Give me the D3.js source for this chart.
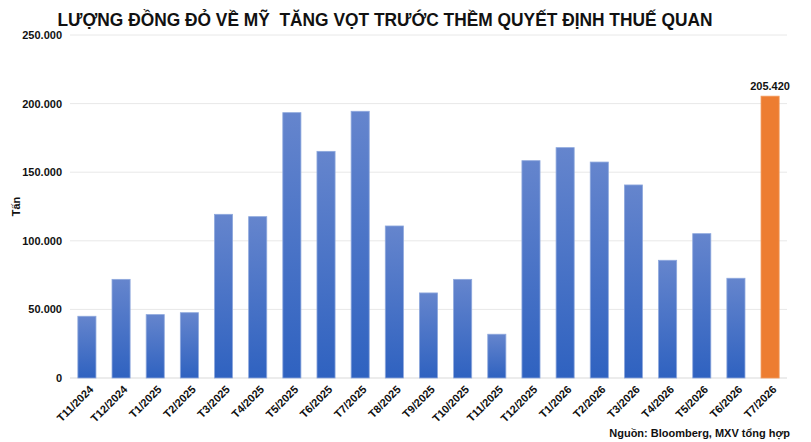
<!DOCTYPE html>
<html>
<head>
<meta charset="utf-8">
<script src="https://cdn.jsdelivr.net/npm/d3@7"></script>
<style>
  body { margin: 0; background: #fff; }
  svg { display: block; font-family: "Liberation Sans", Arial, sans-serif; }
</style>
</head>
<body>
<div id="chart"></div>
<script>
const months = ['T11/2024', 'T12/2024', 'T1/2025', 'T2/2025', 'T3/2025', 'T4/2025', 'T5/2025',
  'T6/2025', 'T7/2025', 'T8/2025', 'T9/2025', 'T10/2025', 'T11/2025', 'T12/2025', 'T1/2026',
  'T2/2026', 'T3/2026', 'T4/2026', 'T5/2026', 'T6/2026', 'T7/2026'];
const tons = [45000, 71900, 46200, 47600, 119300, 117600, 193400, 165200, 194400, 110800, 62000,
  71900, 31900, 158400, 167900, 157400, 140700, 85800, 105200, 72700, 205420];
const yTicks = [0, 50000, 100000, 150000, 200000, 250000];

const width = 811;
const height = 442;
const margin = { top: 35, right: 24, bottom: 64, left: 70 };

const locale = d3.formatLocale({ decimal: ',', thousands: '.', grouping: [3], currency: ['', ''] });
const fmt = locale.format(',d');

const svg = d3.select('#chart')
  .append('svg')
  .attr('width', width)
  .attr('height', height);

const defs = svg.append('defs');
const grad = defs.append('linearGradient')
  .attr('id', 'blueGrad')
  .attr('x1', 0).attr('y1', 0).attr('x2', 0).attr('y2', 1);
grad.append('stop').attr('offset', '0%').attr('stop-color', '#6585cd');
grad.append('stop').attr('offset', '100%').attr('stop-color', '#2f62c0');

const x = d3.scaleBand()
  .domain(months)
  .range([margin.left, width - margin.right])
  .paddingInner(0.47)
  .paddingOuter(0.23);

const y = d3.scaleLinear()
  .domain([0, 250000])
  .range([height - margin.bottom, margin.top]);

// gridlines
svg.append('g')
  .selectAll('line')
  .data(yTicks)
  .enter()
  .append('line')
  .attr('x1', margin.left)
  .attr('x2', width - margin.right)
  .attr('y1', d => y(d))
  .attr('y2', d => y(d))
  .attr('stroke', d => d === 0 ? '#d9d9d9' : '#e8e8e8')
  .attr('stroke-width', 1);

// y axis labels
const yAxis = svg.append('g')
  .attr('transform', `translate(${margin.left - 8},0)`)
  .call(d3.axisLeft(y).tickValues(yTicks).tickFormat(fmt).tickSize(0));
yAxis.select('.domain').remove();
yAxis.selectAll('text')
  .attr('x', 0)
  .style('font-size', '11px')
  .style('font-weight', 'bold')
  .style('fill', '#111');

// bars
svg.append('g')
  .selectAll('rect')
  .data(tons)
  .enter()
  .append('rect')
  .attr('x', (d, i) => x(months[i]))
  .attr('y', d => y(d))
  .attr('width', x.bandwidth())
  .attr('height', d => y(0) - y(d))
  .attr('fill', (d, i) => i === tons.length - 1 ? '#ed7d31' : 'url(#blueGrad)')
  .attr('stroke', (d, i) => i === tons.length - 1 ? '#f29a5c' : '#8ea8dd')
  .attr('stroke-width', 0.8);

// value label on last bar
const last = tons.length - 1;
svg.append('text')
  .attr('x', x(months[last]) + x.bandwidth() / 2)
  .attr('y', y(tons[last]) - 6)
  .attr('text-anchor', 'middle')
  .style('font-size', '11px')
  .style('font-weight', 'bold')
  .style('fill', '#111')
  .text(fmt(tons[last]));

// x labels
const xAxis = svg.append('g')
  .attr('transform', `translate(0,${y(0)})`)
  .call(d3.axisBottom(x).tickSize(0));
xAxis.select('.domain').remove();
xAxis.selectAll('text')
  .attr('text-anchor', 'end')
  .attr('dy', 0)
  .attr('transform', 'translate(5,10) rotate(-45)')
  .style('font-size', '11px')
  .style('font-weight', 'bold')
  .style('fill', '#111');

// y title
svg.append('text')
  .attr('transform', `translate(20,${(y(0) + y(250000)) / 2}) rotate(-90)`)
  .attr('text-anchor', 'middle')
  .style('font-size', '11px')
  .style('font-weight', 'bold')
  .style('fill', '#111')
  .text('Tấn');

// title
svg.append('text')
  .attr('x', 385)
  .attr('y', 26)
  .attr('text-anchor', 'middle')
  .attr('textLength', 655)
  .attr('lengthAdjust', 'spacingAndGlyphs')
  .style('font-family', '"Liberation Sans Narrow", "Liberation Sans", Arial, sans-serif')
  .style('font-size', '19px')
  .style('font-weight', 'bold')
  .style('fill', '#111')
  .style('white-space', 'pre')
  .text('LƯỢNG ĐỒNG ĐỎ VỀ MỸ  TĂNG VỌT TRƯỚC THỀM QUYẾT ĐỊNH THUẾ QUAN');

// source
svg.append('text')
  .attr('x', 790)
  .attr('y', 437)
  .attr('text-anchor', 'end')
  .style('font-size', '11px')
  .style('font-weight', 'bold')
  .style('fill', '#111')
  .text('Nguồn: Bloomberg, MXV tổng hợp');
</script>
</body>
</html>
